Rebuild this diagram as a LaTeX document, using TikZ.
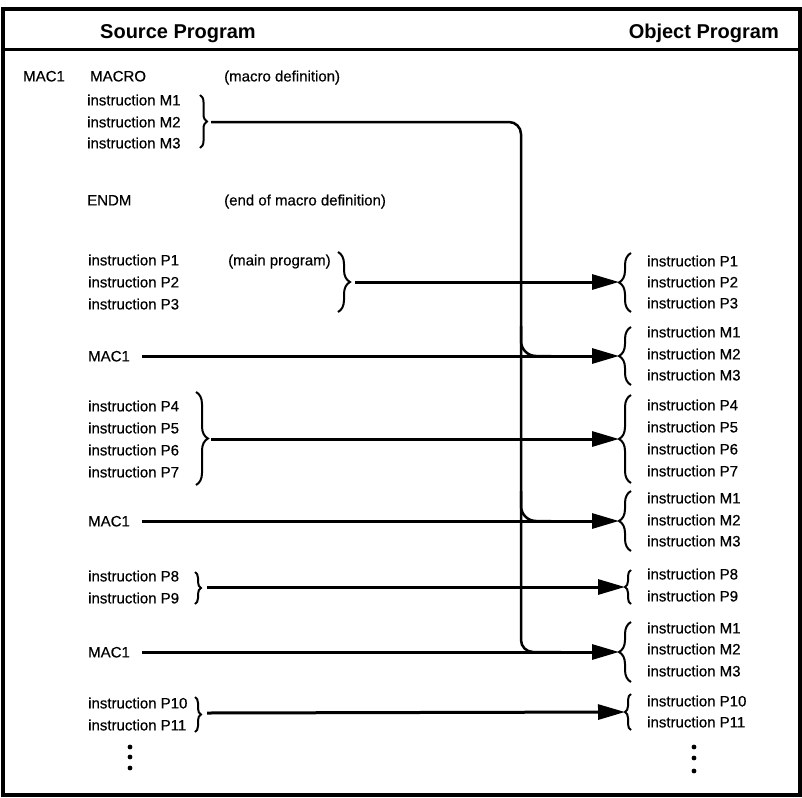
\documentclass[tikz,border=0pt]{standalone}
\usepackage{fontspec}
\setmainfont{Liberation Sans}
\newfontfamily\medfont{Liberation Sans}[FakeBold=0.5]
\usetikzlibrary{arrows.meta, positioning, calc, decorations.pathreplacing}

\begin{document}
\begin{tikzpicture}[
  x=1pt, y=-1pt,
  txt/.style={anchor=west, inner sep=0pt,
              font=\medfont\fontsize{15}{17}\selectfont,
              text height=10.8pt, text depth=0pt},
  head/.style={inner sep=0pt, font=\fontsize{20}{24}\selectfont\bfseries},
  arr/.style={-{Triangle[length=27pt, width=15pt]}, line width=3pt},
  bus/.style={line width=2.5pt},
  brc/.style={decorate, decoration={brace, amplitude=#1}, line width=2pt},
  dot/.style={circle, fill, inner sep=0pt, minimum size=4.8pt},
]
\useasboundingbox (0,0) rectangle (802,797);

% ── Frame and headings ───────────────────────────────────────
\draw[line width=3.5pt] (3,9) rectangle (800,795);
\draw[line width=3pt] (3,50) -- (800,50);
\node[head, anchor=base] (src) at (178,39) {Source Program};
\node[head, anchor=base east] (obj) at (779,39) {Object Program};

% ── Source program ───────────────────────────────────────────
\node[txt] (mac1) at (23,76) {MAC1};
\node[txt] (macro) at (90,76) {MACRO};
\node[txt] (cmdef) at (224,76) {(macro definition)};
\node[txt] (sM1) at (87,100) {instruction M1};
\node[txt] (sM2) at (87,122) {instruction M2};
\node[txt] (sM3) at (87,143) {instruction M3};
\node[txt] (endm) at (87,200) {ENDM};
\node[txt] (cmend) at (224,200) {(end of macro definition)};

\node[txt] (sP1) at (88,260) {instruction P1};
\node[txt] (sP2) at (88,282) {instruction P2};
\node[txt] (sP3) at (88,304) {instruction P3};
\node[txt] (cmain) at (228,260) {(main program)};
\node[txt] (mac1a) at (88,356) {MAC1};
\node[txt] (sP4) at (88,406) {instruction P4};
\node[txt] (sP5) at (88,428) {instruction P5};
\node[txt] (sP6) at (88,450) {instruction P6};
\node[txt] (sP7) at (88,472) {instruction P7};
\node[txt] (mac1b) at (88,521) {MAC1};
\node[txt] (sP8) at (88,576) {instruction P8};
\node[txt] (sP9) at (88,598) {instruction P9};
\node[txt] (mac1c) at (88,652) {MAC1};
\node[txt] (sP10) at (88,703) {instruction P10};
\node[txt] (sP11) at (88,725) {instruction P11};
\node[dot] (sd1) at (130,747) {};
\node[dot] (sd2) at (130,757) {};
\node[dot] (sd3) at (130,768) {};

% source braces and their tips
\draw[brc=7pt] (200,95) -- (200,148);
\draw[brc=12pt] (338,252) -- (338,312);
\draw[brc=12pt] (196,392) -- (196,485);
\draw[brc=6pt] (195,572) -- (195,604);
\draw[brc=6pt] (195,697) -- (195,732);
\coordinate (tipM) at (211,122);
\coordinate (tipPa) at (355,282);
\coordinate (tipPb) at (211,439);
\coordinate (tipPc) at (207,587);
\coordinate (tipPd) at (207,713);

% ── Object program ───────────────────────────────────────────
\node[txt] (oP1) at (647,261) {instruction P1};
\node[txt] (oP2) at (647,282) {instruction P2};
\node[txt] (oP3) at (647,303) {instruction P3};
\node[txt] (oMa1) at (647,332) {instruction M1};
\node[txt] (oMa2) at (647,354) {instruction M2};
\node[txt] (oMa3) at (647,375) {instruction M3};
\node[txt] (oP4) at (647,405) {instruction P4};
\node[txt] (oP5) at (647,427) {instruction P5};
\node[txt] (oP6) at (647,449) {instruction P6};
\node[txt] (oP7) at (647,471) {instruction P7};
\node[txt] (oMb1) at (647,498) {instruction M1};
\node[txt] (oMb2) at (647,520) {instruction M2};
\node[txt] (oMb3) at (647,541) {instruction M3};
\node[txt] (oP8) at (647,574) {instruction P8};
\node[txt] (oP9) at (647,596) {instruction P9};
\node[txt] (oMc1) at (647,628) {instruction M1};
\node[txt] (oMc2) at (647,649) {instruction M2};
\node[txt] (oMc3) at (647,671) {instruction M3};
\node[txt] (oP10) at (647,701) {instruction P10};
\node[txt] (oP11) at (647,722) {instruction P11};
\node[dot] (od1) at (694,747) {};
\node[dot] (od2) at (694,758) {};
\node[dot] (od3) at (694,771) {};

% object braces and their tips
\draw[brc=12pt] (631,312) -- (631,253);
\draw[brc=12pt] (631,385) -- (631,327);
\draw[brc=12pt] (631,483) -- (631,395);
\draw[brc=12pt] (631,551) -- (631,491);
\draw[brc=6pt] (631,604) -- (631,570);
\draw[brc=12pt] (631,682) -- (631,622);
\draw[brc=6pt] (631,730) -- (631,694);
\coordinate (otipPa) at (619,282);
\coordinate (otipMa) at (619,356);
\coordinate (otipPb) at (619,439);
\coordinate (otipMb) at (619,521);
\coordinate (otipPc) at (625,587);
\coordinate (otipMc) at (619,652);
\coordinate (otipPd) at (625,712);

% ── Connections ──────────────────────────────────────────────
\draw[arr] (tipPa) -- (otipPa);
\draw[arr] ([xshift=12pt]mac1a.east) -- (otipMa);
\draw[arr] (tipPb) -- (otipPb);
\draw[arr] ([xshift=12pt]mac1b.east) -- (otipMb);
\draw[arr] (tipPc) -- (otipPc);
\draw[arr] ([xshift=12pt]mac1c.east) -- (otipMc);
\draw[arr] (tipPd) -- (otipPd);

% macro body bus
\coordinate (busTop) at (521,122);
\coordinate (busA) at (521,356);
\coordinate (busB) at (521,521);
\coordinate (busBot) at (521,652);
\draw[bus, rounded corners=12pt] (tipM) -- (busTop) -- (busBot) -- ([xshift=40pt]busBot);
\draw[bus, rounded corners=15pt] ([yshift=30pt]busA) -- (busA) -- ([xshift=30pt]busA);
\draw[bus, rounded corners=15pt] ([yshift=30pt]busB) -- (busB) -- ([xshift=30pt]busB);

\end{tikzpicture}
\end{document}
